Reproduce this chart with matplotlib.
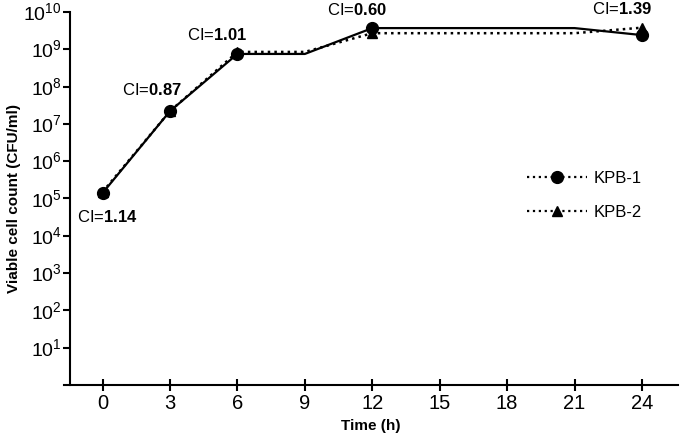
import matplotlib
matplotlib.use("Agg")
import matplotlib.pyplot as plt
from matplotlib.lines import Line2D

plt.rcParams['font.family'] = ['Liberation Sans', 'DejaVu Sans']
plt.rcParams['mathtext.fontset'] = 'custom'
plt.rcParams['mathtext.rm'] = 'Liberation Sans'
plt.rcParams['mathtext.bf'] = 'Liberation Sans:bold'

# time points (h)
time = [0, 3, 6, 9, 12, 21, 24]
kpb1 = [1.4e5, 2.2e7, 7.5e8, 7.5e8, 3.7e9, 3.7e9, 2.4e9]
kpb2 = [1.5e5, 2.2e7, 8.5e8, 8.5e8, 2.7e9, 2.7e9, 3.8e9]
marker_idx = [0, 1, 2, 4, 6]

ci_labels = ["1.14", "0.87", "1.01", "0.60", "1.39"]
ci_x = [0.2, 2.2, 5.1, 11.3, 23.1]
ci_y = [3.2e4, 8e7, 2.4e9, 1.1e10, 1.2e10]

xticks = [0, 3, 6, 9, 12, 15, 18, 21, 24]
yticks = [10 ** k for k in range(1, 11)]
ytick_labels = ["10$^{%d}$" % k for k in range(1, 11)]

fig = plt.figure(figsize=(6.8, 4.44), dpi=100)
ax = fig.add_axes([0.094, 0.133, 0.903, 0.84])

ax.plot(time, kpb2, linestyle=':', color='black', lw=1.8,
        marker='^', ms=7, markevery=marker_idx)
ax.plot(time, kpb1, linestyle='-', color='black', lw=1.6,
        marker='o', ms=8.5, markevery=marker_idx)

for lab, x, y in zip(ci_labels, ci_x, ci_y):
    ax.text(x, y, "CI=$\\mathbf{%s}$" % lab, ha='center', va='center', fontsize=12)

ax.set_yscale('log')
ax.set_ylim(1, 1e10)
ax.set_xlim(-1.72, 25.6)
ax.spines['left'].set_position(('data', -1.44))
ax.set_yticks(yticks)
ax.set_yticklabels(ytick_labels)
ax.yaxis.set_minor_locator(matplotlib.ticker.NullLocator())
ax.set_xticks(xticks)
ax.tick_params(axis='y', direction='out', length=5, width=1.5, labelsize=14, pad=1)
ax.tick_params(axis='x', direction='inout', length=9, width=1.5, labelsize=14.5, pad=2)

for s in ['top', 'right']:
    ax.spines[s].set_visible(False)
for s in ['left', 'bottom']:
    ax.spines[s].set_linewidth(1.5)

ax.set_xlabel("Time (h)", fontweight='bold', fontsize=11, labelpad=4)
ax.set_ylabel("Viable cell count (CFU/ml)", fontweight='bold', fontsize=11, labelpad=2)

handles = [
    Line2D([], [], color='black', linestyle=':', lw=1.6, marker='o', ms=8.5),
    Line2D([], [], color='black', linestyle=':', lw=1.6, marker='^', ms=7),
]
ax.legend(handles, ["KPB-1", "KPB-2"], frameon=False, fontsize=12,
          loc='upper left', bbox_to_anchor=(0.73, 0.615), handlelength=3.6,
          handletextpad=0.4, labelspacing=1.15)

fig.savefig("out.png", dpi=100)
